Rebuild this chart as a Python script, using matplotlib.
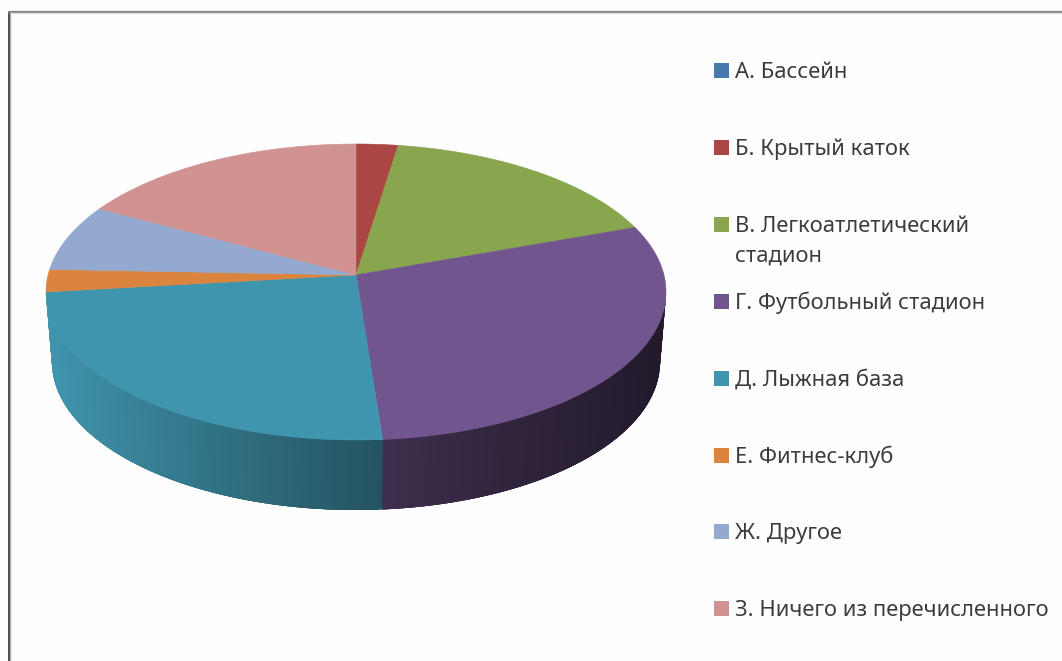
import numpy as np
import matplotlib
matplotlib.use("Agg")
import matplotlib.pyplot as plt
from matplotlib.patches import Polygon, Rectangle

plt.rcParams['font.family'] = ['Noto Sans', 'DejaVu Sans']

# ответы, число человек
labels = ["А. Бассейн", "Б. Крытый каток", "В. Легкоатлетический\nстадион",
          "Г. Футбольный стадион", "Д. Лыжная база", "Е. Фитнес-клуб",
          "Ж. Другое", "З. Ничего из перечисленного"]
values = [0, 1, 7, 12, 10, 1, 3, 7]
colors = ["#4679AE", "#AA4643", "#89A54E", "#71558F",
          "#4095AE", "#DB843D", "#93A9CF", "#D19392"]

# геометрия "3D" круга в пикселях картинки
cx, cy = 356, 292
rx, ry = 310, 148
h = 0.115       # смещение центра круга из-за перспективы
depth = 70
rx_low = 304


def project(theta, r=1.0):
    # theta от верхней точки по часовой стрелке
    x = r*np.sin(theta)
    y = r*np.cos(theta)
    d = 1 + h*y
    return x*np.sqrt(1 - h**2)/d, (y + h)/d


def top_points(theta):
    X, Y = project(theta)
    return cx + rx*X, cy - ry*Y


def low_points(theta):
    X, Y = project(theta)
    return cx + rx_low*X, cy + depth - ry*Y


fig = plt.figure(figsize=(10.62, 6.61), dpi=100, facecolor="#fefefe")
ax = fig.add_axes([0, 0, 1, 1])
ax.set_xlim(0, 1062)
ax.set_ylim(661, 0)
ax.axis("off")

# рамка
ax.plot([8.5, 8.5], [11, 661], color="#3c3c3c", lw=2.0, solid_capstyle="butt")
ax.plot([10, 10], [12, 661], color="#b0b0b0", lw=1.0, solid_capstyle="butt")
ax.plot([8, 1062], [11.5, 11.5], color="#858585", lw=1.6, solid_capstyle="butt")
ax.plot([10, 1062], [13, 13], color="#dddddd", lw=1.0, solid_capstyle="butt")

fracs = np.array(values)/np.sum(values)
ends = np.cumsum(fracs)*2*np.pi
starts = ends - fracs*2*np.pi

# боковая стенка, яркость зависит от положения по x
shade_x = [46, 130, 250, 382, 382.01, 500, 600, 666]
shade_k = [1.0, 0.88, 0.72, 0.56, 0.55, 0.44, 0.36, 0.30]
step = 0.004
for i in range(len(values)):
    if fracs[i] == 0:
        continue
    tt = np.arange(starts[i], ends[i], step)
    base = np.array(matplotlib.colors.to_rgb(colors[i]))
    for t0 in tt:
        # только передняя часть, полоски внахлест, чтобы не было швов
        t1 = min(t0 + 4*step, ends[i])
        if np.cos(t0) > -h:
            continue
        x0, y0 = top_points(t0)
        x1, y1 = top_points(t1)
        x2, y2 = low_points(t1)
        x3, y3 = low_points(t0)
        k = np.interp(x0, shade_x, shade_k)
        ax.add_patch(Polygon([(x0, y0), (x1, y1), (x2, y2), (x3, y3)], closed=True,
                             facecolor=base*k, edgecolor="none"))

# верхняя грань
for i in range(len(values)):
    if fracs[i] == 0:
        continue
    tt = np.linspace(starts[i], ends[i], 200)
    xs, ys = top_points(tt)
    ax_x, ax_y = project(0.0, 0.0)
    pts = [(cx + rx*ax_x, cy - ry*ax_y)] + list(zip(xs, ys))
    ax.add_patch(Polygon(pts, closed=True, facecolor=colors[i], edgecolor=colors[i], lw=0.4))

# легенда
for i, lab in enumerate(labels):
    yy = 70 + i*76.9
    ax.add_patch(Rectangle((714, yy - 7), 15, 15, facecolor=colors[i], edgecolor="none"))
    ax.text(735, yy + 8, lab.split("\n")[0], fontsize=15.85, color="#3c3c3c", va="baseline")
    if "\n" in lab:
        ax.text(735, yy + 38, lab.split("\n")[1], fontsize=15.85, color="#3c3c3c", va="baseline")

fig.savefig("out.png", dpi=100, facecolor=fig.get_facecolor())
